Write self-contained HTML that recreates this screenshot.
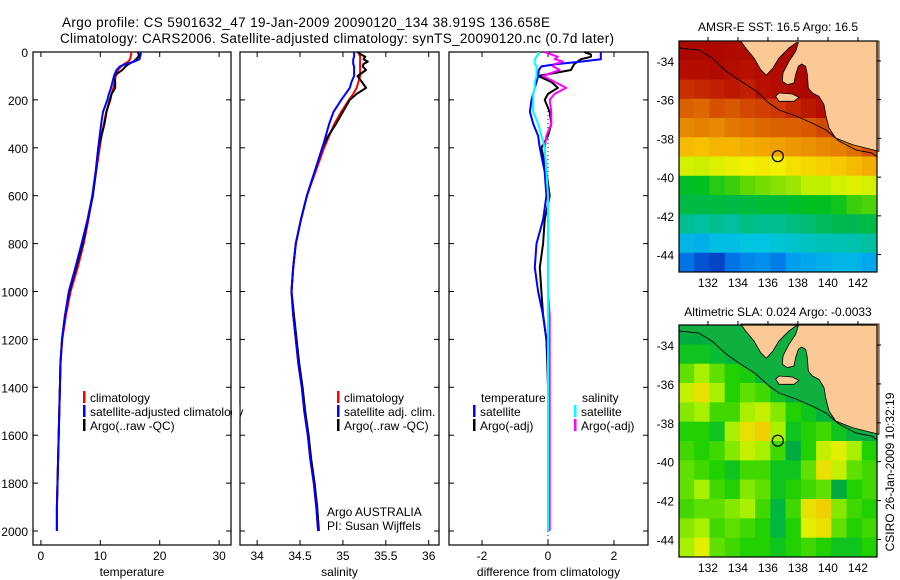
<!DOCTYPE html>
<html><head><meta charset="utf-8"><title>Argo profile</title>
<style>
html,body{margin:0;padding:0;background:#fff;}
svg{display:block;font-family:"Liberation Sans",Arial,sans-serif;}
text{fill:#000;}
</style></head>
<body>
<svg id="fig" width="900" height="580" viewBox="0 0 900 580" xmlns="http://www.w3.org/2000/svg">
<text x="62" y="27" font-size="13.5" textLength="488">Argo profile: CS 5901632_47 19-Jan-2009 20090120_134 38.919S 136.658E</text>
<text x="60" y="43" font-size="13.5" textLength="554">Climatology: CARS2006. Satellite-adjusted climatology: synTS_20090120.nc (0.7d later)</text>
<g id="layer"></g>
</svg>
<script>
// ---- data ----
const depths = [0,10,20,30,40,50,60,75,100,125,150,175,200,250,300,350,400,500,600,700,800,900,1000,1100,1200,1300,1400,1500,1600,1700,1800,1900,2000];
const tempClim = [15.2,15.2,15.1,15.0,14.7,14.0,13.5,13.0,12.6,12.4,12.2,11.9,11.7,11.0,10.6,10.2,9.9,9.3,8.7,8.0,7.2,6.2,5.0,4.2,3.6,3.3,3.2,3.1,3.0,2.9,2.8,2.7,2.7];
const tempSat = [16.8,16.8,16.7,16.6,15.7,14.3,13.3,12.72,12.3,12.05,11.8,11.45,11.2,10.45,10.15,9.9,9.65,9.2,8.65,7.85,6.85,5.8,4.7,4.05,3.55,3.3,3.2,3.1,3.0,2.9,2.8,2.7,2.7];
const tempArgo = [16.3,16.5,16.4,16.0,15.6,14.8,14.25,13.7,12.3,12.5,12.5,11.9,11.6,11.05,10.7,10.2,9.7,9.25,8.75,7.9,7.05,5.95,4.8,4.05,3.55,3.28,3.2,3.1,3.0,2.9,2.8,2.7,2.7];
const salClim = [35.19,35.19,35.2,35.2,35.2,35.2,35.2,35.2,35.2,35.18,35.16,35.12,35.07,34.98,34.9,34.84,34.78,34.68,34.58,34.51,34.45,34.42,34.40,34.42,34.45,34.48,34.52,34.55,34.59,34.62,34.66,34.69,34.71];
const salSat = [35.13,35.13,35.13,35.12,35.12,35.12,35.13,35.13,35.13,35.10,35.08,35.03,34.98,34.89,34.84,34.80,34.76,34.67,34.58,34.51,34.45,34.42,34.40,34.42,34.45,34.48,34.52,34.55,34.59,34.62,34.66,34.69,34.71];
const salArgo = [35.17,35.21,35.26,35.24,35.29,35.24,35.23,35.27,35.17,35.22,35.27,35.16,35.08,35.0,34.92,34.83,34.76,34.67,34.58,34.51,34.45,34.42,34.40,34.43,34.46,34.49,34.53,34.56,34.6,34.63,34.67,34.7,34.72];
const depthTicks = [0,200,400,600,800,1000,1200,1400,1600,1800,2000];
const tempTicks = [0,10,20,30];
const salTicks = [34,34.5,35,35.5,36];
const diffTicks = [-2,0,2];
const salDiffScale = 5;
const sstGrid = [
[.97,.97,.97,.96,.96,.97,.97,.97,.97,.97,.97,.97,.97],
[.95,.95,.96,.95,.94,.95,.96,.97,.97,.97,.97,.97,.97],
[.9,.91,.92,.93,.92,.94,.95,.96,.97,.97,.97,.97,.97],
[.84,.83,.86,.85,.87,.88,.89,.91,.93,.95,.96,.97,.97],
[.79,.8,.79,.81,.82,.83,.84,.84,.85,.87,.9,.94,.96],
[.72,.71,.73,.73,.74,.75,.76,.77,.78,.79,.8,.82,.86],
[.62,.61,.63,.64,.65,.66,.65,.67,.68,.69,.7,.72,.74],
[.49,.5,.52,.53,.55,.56,.57,.58,.6,.6,.62,.63,.62],
[.46,.46,.47,.46,.47,.48,.48,.49,.5,.5,.51,.53,.54],
[.41,.4,.41,.4,.42,.41,.41,.42,.43,.44,.45,.45,.46],
[.32,.31,.33,.33,.34,.34,.35,.36,.37,.38,.38,.39,.4],
[.24,.2,.18,.24,.26,.27,.25,.29,.3,.31,.32,.32,.3]
];
const slaGrid = [
[.36,.36,.36,.35,.35,.34,.34,.36,.36,.4,.4,.4,.4],
[.45,.45,.42,.38,.36,.35,.34,.34,.34,.38,.4,.4,.4],
[.6,.7,.6,.5,.48,.4,.36,.34,.34,.34,.36,.4,.4],
[.75,.85,.7,.5,.6,.55,.45,.36,.34,.34,.34,.36,.4],
[.65,.7,.55,.55,.7,.75,.65,.5,.45,.38,.34,.34,.38],
[.5,.5,.45,.7,.85,.9,.7,.45,.5,.55,.45,.38,.34],
[.55,.5,.55,.65,.75,.7,.55,.35,.5,.75,.8,.7,.5],
[.6,.55,.5,.45,.55,.55,.45,.45,.6,.85,.75,.6,.55],
[.6,.7,.55,.5,.65,.6,.45,.5,.55,.6,.35,.5,.55],
[.55,.6,.6,.65,.7,.55,.4,.55,.85,.9,.65,.55,.5],
[.65,.7,.55,.6,.55,.5,.4,.5,.8,.85,.6,.5,.55],
[.7,.8,.6,.55,.5,.5,.45,.5,.55,.5,.45,.45,.5]
];
const lonTicks = [132,134,136,138,140,142];
const latTicks = [-34,-36,-38,-40,-42,-44];
const argoLon = 136.658, argoLat = -38.919;

// ---- helpers ----
const NS = "http://www.w3.org/2000/svg";
const layer = document.getElementById('layer');
function el(tag, attrs, parent){const e=document.createElementNS(NS,tag);for(const k in attrs)e.setAttribute(k,attrs[k]);(parent||layer).appendChild(e);return e;}
function txt(x,y,s,size,anchor,parent){const t=el('text',{x:x,y:y,'font-size':size||12,'text-anchor':anchor||'start'},parent);t.textContent=s;return t;}
function lerpColor(stops,v){
  if(v<=stops[0][0])return stops[0][1];
  for(let i=1;i<stops.length;i++){if(v<=stops[i][0]){const a=stops[i-1],b=stops[i];const f=(v-a[0])/(b[0]-a[0]);
    const ca=[1,3,5].map(j=>parseInt(a[1].substr(j,2),16)),cb=[1,3,5].map(j=>parseInt(b[1].substr(j,2),16));
    return 'rgb('+ca.map((c,j)=>Math.round(c+(cb[j]-c)*f)).join(',')+')';}}
  return stops[stops.length-1][1];
}
const sstStops=[[.15,'#0830b0'],[.22,'#0060e0'],[.28,'#0098f0'],[.34,'#00c4e0'],[.40,'#00c0a0'],[.45,'#00b850'],[.5,'#00c020'],[.55,'#60d800'],[.6,'#c0f000'],[.65,'#f0f000'],[.7,'#f8c800'],[.76,'#f0a000'],[.82,'#e07000'],[.88,'#d04000'],[.94,'#b81000'],[1,'#a00000']];
const slaStops=[[.3,'#00a040'],[.4,'#00b840'],[.5,'#20d000'],[.6,'#60e000'],[.7,'#a8f000'],[.8,'#e0f000'],[.9,'#f0d000'],[1,'#f0b000']];

// ---- profile axes ----
const PY0=52, PYK=0.2395, PBOT=545, PTOP=52;
function yD(d){return PY0+d*PYK;}
const panels=[
 {name:'temperature',x0:33,x1:231,v0:-1.33,v1:32.0,ticks:tempTicks,label:'temperature'},
 {name:'salinity',x0:240,x1:439,v0:33.8,v1:36.12,ticks:salTicks,label:'salinity'},
 {name:'difference',x0:449,x1:648,v0:-3.0,v1:3.03,ticks:diffTicks,label:'difference from climatology'}
];
panels.forEach(p=>{p.sx=v=>p.x0+(v-p.v0)/(p.v1-p.v0)*(p.x1-p.x0);});

panels.forEach((p,pi)=>{
  const g=el('g',{});
  
  
  const r=el('rect',{x:p.x0,y:PTOP,width:p.x1-p.x0,height:PBOT-PTOP,fill:'#fff',stroke:'#000','stroke-width':1.2},g);
  
  
  depthTicks.forEach(d=>{
    el('line',{x1:p.x0,x2:p.x0+5,y1:yD(d),y2:yD(d),stroke:'#000'},g);
    el('line',{x1:p.x1,x2:p.x1-5,y1:yD(d),y2:yD(d),stroke:'#000'},g);
    if(pi===0){const t=txt(28,yD(d)+5,String(d),12,'end',g);
      
      }
  });
  p.ticks.forEach(v=>{
    const x=p.sx(v);
    el('line',{x1:x,x2:x,y1:PBOT,y2:PBOT-5,stroke:'#000'},g);
    el('line',{x1:x,x2:x,y1:PTOP,y2:PTOP+5,stroke:'#000'},g);
    const t=txt(x,560,String(v),12,'middle',g);
    
    
  });
  const at=txt((p.x0+p.x1)/2,576,p.label,12,'middle',g);
  
  
});

function drawLine(p,vals,color,name,w){
  const pts=vals.map((v,i)=>p.sx(v).toFixed(1)+','+yD(depths[i]).toFixed(1)).join(' ');
  const l=el('polyline',{points:pts,fill:'none',stroke:color,'stroke-width':w||2,'stroke-linejoin':'round'});
  
  
}
const P0=panels[0],P1=panels[1],P2=panels[2];
drawLine(P0,tempClim,'#f00','temp-climatology-line');
drawLine(P0,tempArgo,'#000','temp-argo-line');
drawLine(P0,tempSat,'#00f','temp-satellite-line');
drawLine(P1,salClim,'#f00','sal-climatology-line');
drawLine(P1,salArgo,'#000','sal-argo-line');
drawLine(P1,salSat,'#00f','sal-satellite-line');
const zl=el('line',{x1:P2.sx(0),x2:P2.sx(0),y1:yD(230),y2:PBOT,stroke:'#000','stroke-dasharray':'1,3'});


drawLine(P2,tempArgo.map((v,i)=>v-tempClim[i]),'#000','temp-argo-diff-line');
drawLine(P2,tempSat.map((v,i)=>v-tempClim[i]),'#00f','temp-satellite-diff-line');
drawLine(P2,salArgo.map((v,i)=>(v-salClim[i])*salDiffScale),'#f0f','sal-argo-diff-line');
drawLine(P2,salSat.map((v,i)=>(v-salClim[i])*salDiffScale),'#0ff','sal-satellite-diff-line');

// ---- legends ----
function legend(x,y,color,label,name){
  const g=el('g',{});
  
  
  if(color)el('rect',{x:x,y:y-11,width:2.5,height:12,fill:color},g);
  txt(x+7,y,label,12,'start',g);
}
legend(83,402,'#f00','climatology','legend-entry-climatology');
legend(83,416,'#00f','satellite-adjusted climatology','legend-entry-satellite');
legend(83,430,'#000','Argo(..raw -QC)','legend-entry-argo');
legend(337,402,'#f00','climatology','legend-entry-sal-climatology');
legend(337,416,'#00f','satellite adj. clim.','legend-entry-sal-satellite');
legend(337,430,'#000','Argo(..raw -QC)','legend-entry-sal-argo');
legend(474,402,null,'temperature','legend-header-temperature');
legend(473,416,'#00f','satellite','legend-entry-diff-temp-satellite');
legend(473,430,'#000','Argo(-adj)','legend-entry-diff-temp-argo');
legend(575,402,null,'salinity','legend-header-salinity');
legend(574,416,'#0ff','satellite','legend-entry-diff-sal-satellite');
legend(574,430,'#f0f','Argo(-adj)','legend-entry-diff-sal-argo');
const cov=el('rect',{x:232,y:405,width:7.5,height:14,fill:'#fff'});


const a1=txt(327,516,'Argo AUSTRALIA',12);


const a2=txt(327,530,'PI: Susan Wijffels',12);



// ---- maps ----
const coastPts="185,9 200,30 225,60 245,95 262,112 282,90 300,60 330,30 352,14 358,14 350,40 330,70 312,105 310,130 325,140 345,135 350,110 358,85 368,78 380,85 385,110 388,150 400,165 420,175 435,200 440,230 450,270 470,300 520,320 560,330 600,340 600,9";
const islandPts="290,175 300,165 340,168 360,178 345,190 300,190";
const shelf=[[679,48],[699,50],[712,58],[726,71],[739,80],[756,91],[769,103],[779,110],[796,116],[812,123],[826,130],[839,141],[856,150],[872,153],[877,157]];
function drawMap(opt){
  const {x0,x1,y0,y1,grid,stops,title,ty,name,dy,shelfCol}=opt;
  const g=el('g',{});
  
  
  const lon0=130.07,lon1=143.27,lat0=-32.97,lat1=-44.9;
  const sx=l=>x0+(l-lon0)/(lon1-lon0)*(x1-x0);
  const sy=l=>y0+(l-lat0)/(lat1-lat0)*(y1-y0);
  const rows=grid.length, cols=grid[0].length;
  const cw=(x1-x0)/cols, ch=(y1-y0)/rows;
  grid.forEach((row,ri)=>row.forEach((v,ci)=>{
    const c=el('rect',{x:(x0+ci*cw).toFixed(2),y:(y0+ri*ch).toFixed(2),width:(cw+0.5).toFixed(2),height:(ch+0.5).toFixed(2),fill:lerpColor(stops,v)},g);
    
    
  }));
  if(shelfCol){
    const pts=shelf.map(p=>p[0]+','+(p[1]+dy)).join(' ')+' 877,'+(y0)+' 679,'+(y0);
    const sp=el('polygon',{points:pts,fill:shelfCol},g);
    
    
  }
  const lg=el('g',{transform:'translate(679,'+(38+dy)+') scale(0.3333)'},g);
  const land=el('polygon',{points:coastPts,fill:'#fbc995',stroke:'#000','stroke-width':2.5},lg);
  
  
  const isl=el('polygon',{points:islandPts,fill:'#fbc995',stroke:'#000','stroke-width':2.5},lg);
  
  
  const sh=el('polyline',{points:shelf.map(p=>p[0]+','+(p[1]+dy)).join(' '),fill:'none',stroke:'#000','stroke-width':0.9},g);
  
  
  const fr=el('rect',{x:x0,y:y0,width:x1-x0,height:y1-y0,fill:'none',stroke:'#000','stroke-width':1.2},g);
  
  
  lonTicks.forEach(l=>{
    el('line',{x1:sx(l),x2:sx(l),y1:y0,y2:y0-4,stroke:'#000'},g);
    const t=txt(sx(l),y1+15,String(l),12,'middle',g);
    
    
  });
  latTicks.forEach(l=>{
    el('line',{x1:x1,x2:x1+4,y1:sy(l),y2:sy(l),stroke:'#000'},g);
    const t=txt(x0-5,sy(l)+5,String(l),12,'end',g);
    
    
  });
  const c=el('circle',{cx:sx(argoLon),cy:sy(argoLat),r:5.5,fill:'none',stroke:'#000','stroke-width':1.2},g);
  
  
  const t=txt((x0+x1)/2,ty,title,12,'middle',g);
  
  
}
drawMap({x0:679,x1:877,y0:41,y1:272,grid:sstGrid,stops:sstStops,title:'AMSR-E SST: 16.5 Argo: 16.5',ty:31,name:'sst-map',dy:0,shelfCol:null});
drawMap({x0:679,x1:877,y0:325,y1:557,grid:slaGrid,stops:slaStops,title:'Altimetric SLA: 0.024 Argo: -0.0033',ty:316,name:'sla-map',dy:283,shelfCol:'#10b040'});
const ts=txt(0,0,'CSIRO 26-Jan-2009 10:32:19',12,'middle');
ts.setAttribute('transform','translate(894,472) rotate(-90)');


</script>
</body></html>
